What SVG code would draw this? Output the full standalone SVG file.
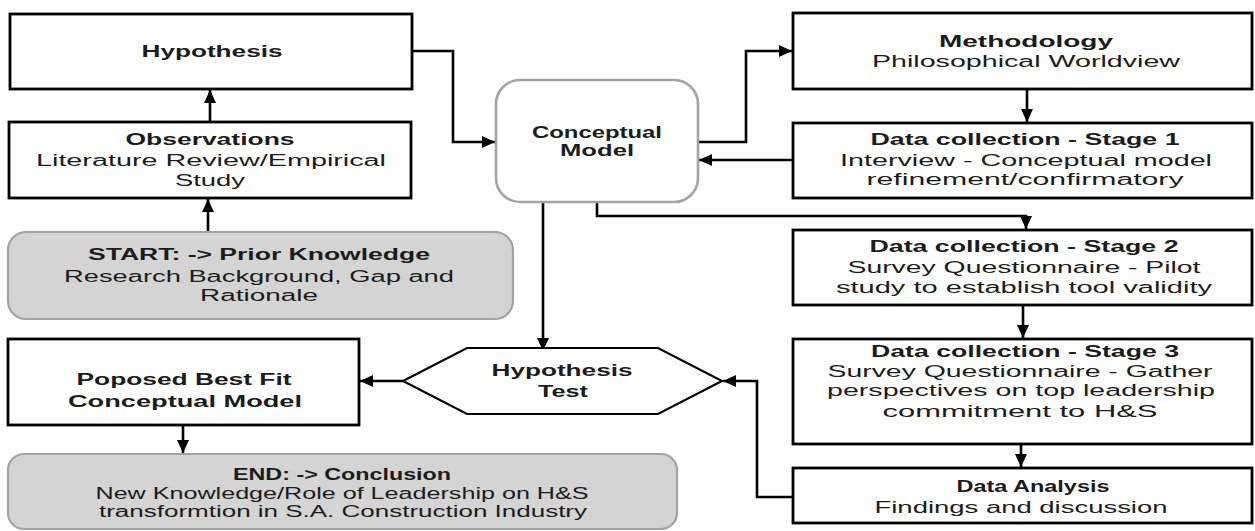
<svg xmlns="http://www.w3.org/2000/svg" width="1255" height="531" viewBox="0 0 1255 531">
<defs>
<style>
.box{fill:#fff;stroke:#000;stroke-width:2.8}
.term{fill:#d4d4d4;stroke:#a3a3a3;stroke-width:2.2}
.cm{fill:#fff;stroke:#a3a3a3;stroke-width:2.6}
.hex{fill:#fff;stroke:#000;stroke-width:2.2}
.c{fill:none;stroke:#000;stroke-width:2.6}
text{font-family:"Liberation Sans",Arial,sans-serif;font-size:16px;fill:#1c1c1c;text-anchor:middle}
.b{font-weight:bold}
</style>
<marker id="ah" markerUnits="userSpaceOnUse" markerWidth="14" markerHeight="14" viewBox="0 0 14 14" refX="13" refY="7" orient="auto">
<path d="M0,1 L13,7 L0,13 z" fill="#000"/>
</marker>
</defs>

<g id="connectors">
<path class="c" d="M208,232 V199" marker-end="url(#ah)"/>
<path class="c" d="M210,122 V90" marker-end="url(#ah)"/>
<path class="c" d="M412,51 H453 V142 H495" marker-end="url(#ah)"/>
<path class="c" d="M698,142 H746 V51 H792" marker-end="url(#ah)"/>
<path class="c" d="M793,160 H699" marker-end="url(#ah)"/>
<path class="c" d="M597,202 V216 H1026 V229" marker-end="url(#ah)"/>
<path class="c" d="M543,203 V351" marker-end="url(#ah)"/>
<path class="c" d="M1027,89 V122" marker-end="url(#ah)"/>
<path class="c" d="M1023,305 V338" marker-end="url(#ah)"/>
<path class="c" d="M1021,444 V467" marker-end="url(#ah)"/>
<path class="c" d="M793,497 H757 V381 H723" marker-end="url(#ah)"/>
<path class="c" d="M403,381 H360" marker-end="url(#ah)"/>
<path class="c" d="M183,425 V453" marker-end="url(#ah)"/>
</g>

<g id="hypothesis">
<rect class="box" x="10" y="14" width="402" height="75"/>
<text class="b" x="212" y="57" textLength="141" lengthAdjust="spacingAndGlyphs">Hypothesis</text>
</g>

<g id="observations">
<rect class="box" x="9" y="122" width="402" height="76"/>
<text class="b" x="210" y="145" textLength="169" lengthAdjust="spacingAndGlyphs">Observations</text>
<text x="211" y="166" textLength="350" lengthAdjust="spacingAndGlyphs">Literature Review/Empirical</text>
<text x="210" y="186" textLength="70" lengthAdjust="spacingAndGlyphs">Study</text>
</g>

<g id="start">
<rect class="term" x="8" y="232" width="505" height="87" rx="18"/>
<text class="b" x="259" y="260" textLength="342" lengthAdjust="spacingAndGlyphs">START: -&gt; Prior Knowledge</text>
<text x="259" y="282" textLength="390" lengthAdjust="spacingAndGlyphs">Research Background, Gap and</text>
<text x="259" y="301" textLength="118" lengthAdjust="spacingAndGlyphs">Rationale</text>
</g>

<g id="conceptual-model">
<rect class="cm" x="496" y="80" width="202" height="122" rx="24"/>
<text class="b" x="597" y="138" textLength="130" lengthAdjust="spacingAndGlyphs">Conceptual</text>
<text class="b" x="597" y="156" textLength="74" lengthAdjust="spacingAndGlyphs">Model</text>
</g>

<g id="methodology">
<rect class="box" x="793" y="13" width="459" height="76"/>
<text class="b" x="1026" y="47" textLength="174" lengthAdjust="spacingAndGlyphs">Methodology</text>
<text x="1026" y="67" textLength="308" lengthAdjust="spacingAndGlyphs">Philosophical Worldview</text>
</g>

<g id="stage1">
<rect class="box" x="793" y="123" width="459" height="75"/>
<text class="b" x="1025" y="145" textLength="309" lengthAdjust="spacingAndGlyphs">Data collection - Stage 1</text>
<text x="1026" y="166" textLength="372" lengthAdjust="spacingAndGlyphs">Interview - Conceptual model</text>
<text x="1025" y="185" textLength="317" lengthAdjust="spacingAndGlyphs">refinement/confirmatory</text>
</g>

<g id="stage2">
<rect class="box" x="793" y="230" width="459" height="75"/>
<text class="b" x="1024" y="252" textLength="309" lengthAdjust="spacingAndGlyphs">Data collection - Stage 2</text>
<text x="1024" y="273" textLength="353" lengthAdjust="spacingAndGlyphs">Survey Questionnaire - Pilot</text>
<text x="1024" y="293" textLength="376" lengthAdjust="spacingAndGlyphs">study to establish tool validity</text>
</g>

<g id="stage3">
<rect class="box" x="793" y="339" width="459" height="105"/>
<text class="b" x="1025" y="357" textLength="308" lengthAdjust="spacingAndGlyphs">Data collection - Stage 3</text>
<text x="1020" y="377" textLength="385" lengthAdjust="spacingAndGlyphs">Survey Questionnaire - Gather</text>
<text x="1021" y="396" textLength="388" lengthAdjust="spacingAndGlyphs">perspectives on top leadership</text>
<text x="1020" y="417" textLength="275" lengthAdjust="spacingAndGlyphs">commitment to H&amp;S</text>
</g>

<g id="data-analysis">
<rect class="box" x="793" y="468" width="459" height="55"/>
<text class="b" x="1033" y="492" textLength="153" lengthAdjust="spacingAndGlyphs">Data Analysis</text>
<text x="1021" y="513" textLength="293" lengthAdjust="spacingAndGlyphs">Findings and discussion</text>
</g>

<g id="hypothesis-test">
<polygon class="hex" points="403,381 467,348 658,348 722,381 658,414 467,414"/>
<text class="b" x="562" y="376" textLength="141" lengthAdjust="spacingAndGlyphs">Hypothesis</text>
<text class="b" x="563" y="397" textLength="50" lengthAdjust="spacingAndGlyphs">Test</text>
</g>

<g id="proposed-model">
<rect class="box" x="8" y="339" width="351" height="86"/>
<text class="b" x="184" y="385" textLength="215" lengthAdjust="spacingAndGlyphs">Poposed Best Fit</text>
<text class="b" x="185" y="407" textLength="234" lengthAdjust="spacingAndGlyphs">Conceptual Model</text>
</g>

<g id="end">
<rect class="term" x="8" y="454" width="669" height="75" rx="16"/>
<text class="b" x="342" y="480" textLength="218" lengthAdjust="spacingAndGlyphs">END: -&gt; Conclusion</text>
<text x="342" y="499" textLength="493" lengthAdjust="spacingAndGlyphs">New Knowledge/Role of Leadership on H&amp;S</text>
<text x="343" y="517" textLength="488" lengthAdjust="spacingAndGlyphs">transformtion in S.A. Construction Industry</text>
</g>
</svg>
